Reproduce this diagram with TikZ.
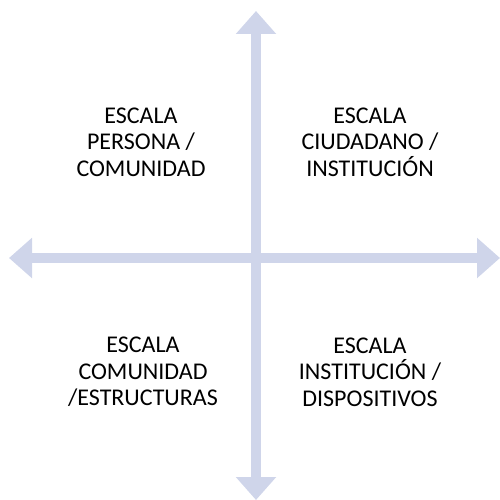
\documentclass[tikz,border=0pt]{standalone}
\usepackage{fontspec}
\setmainfont{Carlito}
\usetikzlibrary{arrows.meta}
\definecolor{axisblue}{RGB}{207,213,234}
\tikzset{every picture/.style={line width=0.75pt}}
\tikzset{
  axis/.style={draw=axisblue, line width=10pt,
    {Triangle[width=39pt,length=23pt]}-{Triangle[width=39pt,length=23pt]}},
  quadrant/.style={align=center, inner sep=0pt, text=black,
    font=\fontsize{24}{26.7}\selectfont}
}
\begin{document}
\begin{tikzpicture}[x=1pt,y=1pt,yscale=-1,xscale=1]
\useasboundingbox (0,0) rectangle (500,500);

% Axis ends
\coordinate (top) at (256,11);
\coordinate (bottom) at (256,500);
\coordinate (left) at (9,258);
\coordinate (right) at (500,258);

% Connection
\draw [axis] (left) -- (right);
% Connection
\draw [axis] (bottom) -- (top);

% Text Node
\node [quadrant] (persona) at (141,142) {ESCALA\\PERSONA /\\COMUNIDAD};
% Text Node
\node [quadrant] (ciudadano) at (370,142) {ESCALA\\CIUDADANO /\\INSTITUCIÓN};
% Text Node
\node [quadrant] (comunidad) at (143,372) {ESCALA\\COMUNIDAD\\/ESTRUCTURAS};
% Text Node
\node [quadrant] (institucion) at (370,372) {ESCALA\\INSTITUCIÓN /\\DISPOSITIVOS};

\end{tikzpicture}
\end{document}
